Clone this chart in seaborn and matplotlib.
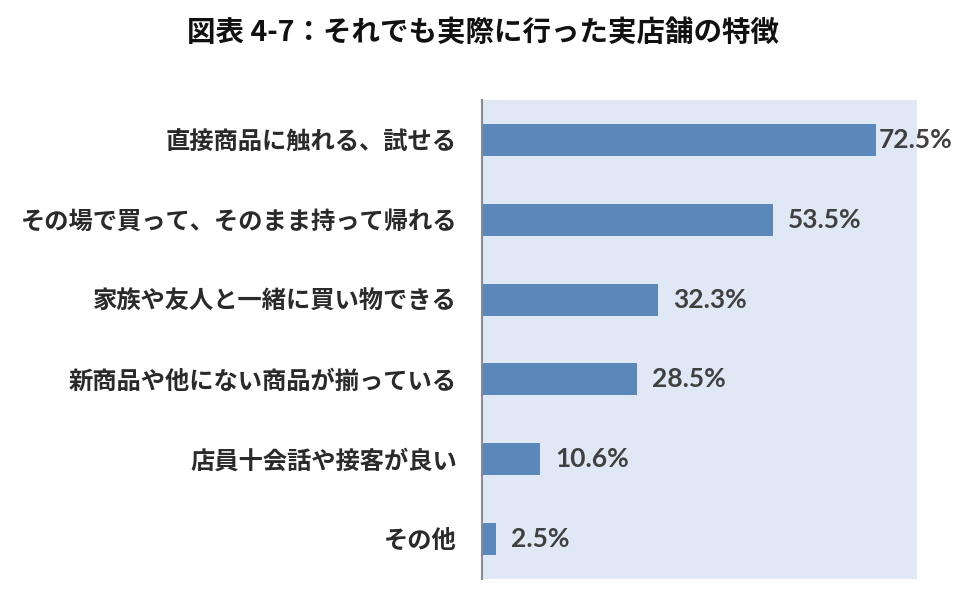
import pandas as pd
import seaborn as sns
import matplotlib.pyplot as plt

categories = [
    "直接商品に触れる、試せる",
    "その場で買って、そのまま持って帰れる",
    "家族や友人と一緒に買い物できる",
    "新商品や他にない商品が揃っている",
    "店員十会話や接客が良い",
    "その他",
]
values = [72.5, 53.5, 32.3, 28.5, 10.6, 2.5]
value_labels = ["72.5%", "53.5%", "32.3%", "28.5%", "10.6%", "2.5%"]
title = "図表 4-7：それでも実際に行った実店舗の特徴"


def main():
    sns.set_style("white")
    plt.rcParams['font.family'] = ['Noto Sans CJK JP', 'DejaVu Sans']

    df = pd.DataFrame({"category": categories, "value": values})

    fig = plt.figure(figsize=(9.78, 5.96), dpi=100)
    ax = fig.add_axes([482 / 978, 1 - 579 / 596, 435 / 978, 479 / 596])
    ax.set_facecolor("#dfe8f4")

    sns.barplot(data=df, x="value", y="category", color="#5b88bb",
                saturation=1, width=0.4, linewidth=0, ax=ax)

    ax.set_xlim(0, 80)
    ax.set_xticks([])
    ax.set_xlabel("")
    ax.set_ylabel("")
    for side in ["top", "right", "bottom"]:
        ax.spines[side].set_visible(False)
    ax.spines["left"].set_color("#8c8c8c")
    ax.spines["left"].set_linewidth(1.5)
    ax.tick_params(axis="y", length=0, pad=18, colors="#2a2a2a",
                   labelsize=17.5)
    for lbl in ax.get_yticklabels():
        lbl.set_fontweight("bold")

    # data labels: the longest one sits right against its bar
    for i, (patch, text) in enumerate(zip(ax.patches, value_labels)):
        pad = 2 if i == 0 else 11
        ax.annotate(text, (patch.get_width(), patch.get_y() + patch.get_height() / 2),
                    xytext=(pad, 0), textcoords="offset points",
                    ha="left", va="center", fontsize=19, color="#404040",
                    family=["Lato", "DejaVu Sans"], fontweight="bold",
                    annotation_clip=False)

    fig.text(483 / 978, 1 - 33 / 596, title, ha="center", va="center",
             fontsize=20.5, fontweight="bold", color="#111111")

    fig.savefig("out.png", dpi=100)


if __name__ == "__main__":
    main()
